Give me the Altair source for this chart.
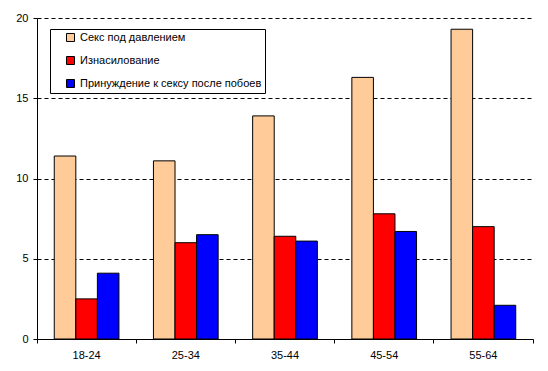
import altair as alt
import pandas as pd

groups = ["18-24", "25-34", "35-44", "45-54", "55-64"]
series = ["Секс под давлением", "Изнасилование", "Принуждение к сексу после побоев"]
colors = ["#FFCC99", "#FF0000", "#0000FF"]
pressure = [11.4, 11.1, 13.9, 16.3, 19.3]
rape = [2.5, 6.0, 6.4, 7.8, 7.0]
beating = [4.1, 6.5, 6.1, 6.7, 2.1]

rows = []
for i, g in enumerate(groups):
    for s, vals in zip(series, [pressure, rape, beating]):
        rows.append({"group": g, "series": s, "value": vals[i]})
df = pd.DataFrame(rows)

font = "Liberation Sans"

chart = alt.Chart(df).mark_bar(stroke="black", strokeWidth=1).encode(
    x=alt.X("group:N", sort=groups, title=None,
            scale=alt.Scale(paddingInner=0, paddingOuter=0),
            axis=alt.Axis(labelAngle=0, bandPosition=1, tickExtra=True,
                          tickSize=4, tickColor="black", domainColor="black",
                          labelPadding=6, labelFont=font, labelFontSize=11,
                          labelColor="black", grid=False)),
    xOffset=alt.XOffset("series:N", sort=series,
                        scale=alt.Scale(paddingInner=0, paddingOuter=0.8)),
    y=alt.Y("value:Q", title=None,
            scale=alt.Scale(domain=[0, 20], nice=False),
            axis=alt.Axis(values=[0, 5, 10, 15, 20], tickSize=4, tickColor="black",
                          domainColor="black", labelPadding=5, labelFont=font,
                          labelFontSize=11, labelColor="black",
                          grid=True, gridColor="black", gridDash=[4, 3],
                          gridOpacity=1, gridWidth=1)),
    color=alt.Color("series:N", sort=series,
                    scale=alt.Scale(domain=series, range=colors),
                    legend=alt.Legend(title=None, orient="none", legendX=13, legendY=11,
                                      strokeColor="black", padding=3,
                                      symbolType="square", symbolSize=64,
                                      symbolStrokeColor="black", symbolStrokeWidth=1,
                                      symbolOffset=12, rowPadding=10,
                                      labelFont=font, labelFontSize=11,
                                      labelColor="black", labelLimit=400,
                                      labelExpr="datum.label + '\u00a0\u00a0\u00a0'",
                                      fillColor="white")),
).properties(
    width=496, height=321,
    padding={"left": 7, "top": 4, "right": 3, "bottom": 5},
    background="white",
).configure_view(stroke=None)

chart.save("out.html", embed_options={"renderer": "svg", "actions": False})
